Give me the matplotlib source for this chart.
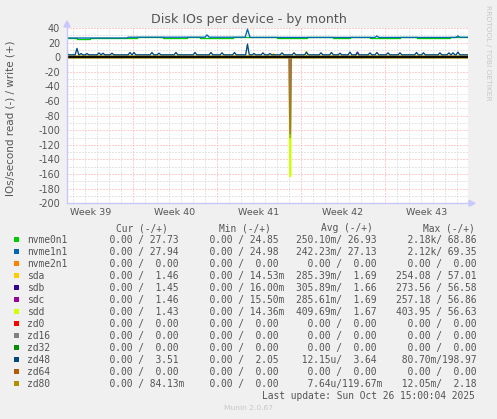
import matplotlib
matplotlib.use("Agg")
import matplotlib.pyplot as plt
from matplotlib.patches import Rectangle, Polygon
from matplotlib.lines import Line2D

W, H = 497, 419
XMAX = 33.42  # days shown (12 px per day)

devices = ["nvme0n1", "nvme1n1", "nvme2n1", "sda", "sdb", "sdc", "sdd",
           "zd0", "zd16", "zd32", "zd48", "zd64", "zd80"]
colors = ["#00cc00", "#0066b3", "#ff8000", "#ffcc00", "#330099", "#990099", "#ccff00",
          "#ff0000", "#808080", "#008f00", "#00487d", "#b35a00", "#b38f00"]

cur = ["  0.00 / 27.73 ", "  0.00 / 27.94 ", "  0.00 /  0.00 ", "  0.00 /  1.46 ",
       "  0.00 /  1.45 ", "  0.00 /  1.46 ", "  0.00 /  1.43 ", "  0.00 /  0.00 ",
       "  0.00 /  0.00 ", "  0.00 /  0.00 ", "  0.00 /  3.51 ", "  0.00 /  0.00 ",
       "  0.00 / 84.13m"]
mins = ["  0.00 / 24.85 ", "  0.00 / 24.98 ", "  0.00 /  0.00 ", "  0.00 / 14.53m",
        "  0.00 / 16.00m", "  0.00 / 15.50m", "  0.00 / 14.36m", "  0.00 /  0.00 ",
        "  0.00 /  0.00 ", "  0.00 /  0.00 ", "  0.00 /  2.05 ", "  0.00 /  0.00 ",
        "  0.00 /  0.00 "]
avgs = ["250.10m/ 26.93 ", "242.23m/ 27.13 ", "  0.00 /  0.00 ", "285.39m/  1.69 ",
        "305.89m/  1.66 ", "285.61m/  1.69 ", "409.69m/  1.67 ", "  0.00 /  0.00 ",
        "  0.00 /  0.00 ", "  0.00 /  0.00 ", " 12.15u/  3.64 ", "  0.00 /  0.00 ",
        "  7.64u/119.67m"]
maxs = ["  2.18k/ 68.86 ", "  2.12k/ 69.35 ", "  0.00 /  0.00 ", "254.08 / 57.01 ",
        "273.56 / 56.58 ", "257.18 / 56.86 ", "403.95 / 56.63 ", "  0.00 /  0.00 ",
        "  0.00 /  0.00 ", "  0.00 /  0.00 ", " 80.70m/198.97 ", "  0.00 /  0.00 ",
        " 12.05m/  2.18 "]

week_labels = ["Week 39", "Week 40", "Week 41", "Week 42", "Week 43"]
week_centers = [2.0, 9.0, 16.0, 23.0, 30.0]
week_starts = [5.5, 12.5, 19.5, 26.5]

# write (+) side
nvme1_t = [0, 5.0, 5.1, 11.5, 11.67, 11.85, 14.85, 15.04, 15.25, 25.65, 25.83, 26.0,
           32.4, 32.58, 32.75, XMAX]
nvme1_v = [26.3, 26.3, 27.4, 27.4, 30.5, 27.4, 27.4, 38.5, 27.1, 27.1, 29.0, 27.1,
           27.1, 29.0, 27.3, 27.3]
nvme0_t = [0, 0.8, 1.9, 5.1, 5.8, 8.0, 10.0, 11.1, 13.8, 17.5, 20.0, 22.2, 23.6,
           25.25, 27.75, 29.2, 31.9, XMAX]
nvme0_v = [26.3, 25.6, 26.3, 26.3, 27.4, 26.6, 27.4, 26.6, 27.4, 26.4, 27.1, 26.4,
           27.1, 26.4, 27.1, 26.4, 27.1, 27.1]

zd48_base = 3.3
zd48_days = [0.83, 1.17, 1.67, 2.67, 3.0, 3.75, 5.25, 5.58, 7.08, 7.67, 9.08, 10.67,
             12.0, 12.92, 13.96, 15.04, 15.58, 16.33, 16.92, 17.92, 18.92, 19.96,
             21.17, 22.04, 22.75, 23.58, 24.21, 25.25, 25.83, 26.75, 27.75, 29.13,
             29.71, 31.08, 31.83, 32.17, 32.58]
zd48_peaks = [12.0, 5.0, 5.0, 6.0, 5.5, 5.5, 6.5, 6.5, 6.5, 5.5, 6.5, 6.5,
              6.5, 6.0, 6.5, 18.0, 5.0, 6.0, 5.0, 6.0, 6.0, 7.0,
              6.0, 6.5, 5.5, 7.0, 6.5, 6.0, 6.5, 6.0, 6.0, 6.5,
              6.0, 6.0, 6.0, 6.0, 7.0]

sd_base = [1.5, 1.45, 1.5, 1.45]      # sda, sdb, sdc, sdd
sd_bump_day = [17.2, None, 24.2, 19.96]
sd_bump_val = [5.0, None, 7.0, 8.0]

zd80_base = 0.08

# read (-) side: one spike on the sd disks
read_day = 18.6
read_peak = [-102.0, -110.0, -104.0, -163.0]   # sda, sdb, sdc, sdd


def spiked(base, days, peaks, half=0.15):
    xs, ys = [0], [base]
    for d, p in zip(days, peaks):
        xs += [d - half, d, d + half]
        ys += [base, p, base]
    xs.append(XMAX)
    ys.append(base)
    return xs, ys


def fx(px):
    return px / W


def fy(py):
    return 1 - py / H


txt = "#555555"
fig = plt.figure(figsize=(W / 100, H / 100), dpi=100, facecolor="#f0f0f0")
ax = fig.add_axes([fx(67), fy(203.3), (468 - 67) / W, (203.3 - 28) / H])
ax.set_facecolor("white")
ax.set_xlim(0, XMAX)
ax.set_ylim(-200, 40)
for s in ax.spines.values():
    s.set_visible(False)

# grid
dot = (0, (1, 2))
for d in range(34):
    x = d + 0.5
    if x in week_starts or x > XMAX:
        continue
    ax.axvline(x, color="#cccccc", lw=0.72, ls=dot, zorder=0)
for yv in range(-190, 40, 20):
    ax.axhline(yv, color="#cccccc", lw=0.72, ls=dot, zorder=0)
for x in week_starts:
    ax.axvline(x, color="#ff9f9f", lw=0.72, ls=dot, zorder=0)
for yv in range(-200, 41, 20):
    ax.axhline(yv, color="#ff9f9f", lw=0.72, ls=dot, zorder=0)

lw = 0.95
ax.plot(nvme0_t, nvme0_v, color=colors[0], lw=lw, drawstyle="steps-post")
ax.plot(nvme1_t, nvme1_v, color=colors[1], lw=lw)
ax.plot([0, XMAX], [0, 0], color=colors[2], lw=lw)
for i in range(4):
    if sd_bump_day[i] is None:
        xs, ys = spiked(sd_base[i], [], [])
    else:
        xs, ys = spiked(sd_base[i], [sd_bump_day[i]], [sd_bump_val[i]])
    ax.plot(xs, ys, color=colors[3 + i], lw=lw)
for i in (7, 8, 9):
    ax.plot([0, XMAX], [0, 0], color=colors[i], lw=lw)
xs, ys = spiked(zd48_base, zd48_days, zd48_peaks)
xs = [0, 0.1] + xs[1:]
ys = [6.5, zd48_base] + ys[1:]
ax.plot(xs, ys, color=colors[10], lw=lw)
ax.plot([0, XMAX], [0, 0], color=colors[11], lw=lw)
ax.plot([0, XMAX], [zd80_base, zd80_base], color=colors[12], lw=lw)

# read side
xs, ys = spiked(0, [read_day], [read_peak[3]], half=0.08)
ax.plot(xs, ys, color=colors[6], lw=1.5)
for i in range(3):
    xs, ys = spiked(0, [read_day], [read_peak[i]], half=0.08)
    ax.plot(xs, ys, color=colors[3 + i], lw=1.3, alpha=0.3)

ax.axhline(0, color="black", lw=1.3)

ax.set_yticks(range(-200, 41, 20))
ax.set_yticklabels([str(v) for v in range(-200, 41, 20)])
ax.set_xticks(week_centers)
ax.set_xticklabels(week_labels)
ax.tick_params(axis="y", length=0, pad=5.0, labelsize=6.9, labelcolor=txt)
ax.tick_params(axis="x", length=0, pad=3.2, labelsize=6.8, labelcolor=txt)

# axes lines with arrows
axc = "#c8c8ff"
fig.add_artist(Line2D([fx(67), fx(67)], [fy(203.3), fy(24)], color=axc, lw=1.0))
fig.add_artist(Line2D([fx(67), fx(471)], [fy(203.3), fy(203.3)], color=axc, lw=1.0))
fig.add_artist(Polygon([(fx(64), fy(27)), (fx(70), fy(27)), (fx(67), fy(21))],
                       closed=True, color=axc, transform=fig.transFigure))
fig.add_artist(Polygon([(fx(469), fy(200.3)), (fx(469), fy(206.3)), (fx(475), fy(203.3))],
                       closed=True, color=axc, transform=fig.transFigure))

fig.text(fx(249), fy(19.3), "Disk IOs per device - by month", ha="center", va="center",
         fontsize=9.05, color=txt)
fig.text(fx(10.5), fy(118), "IOs/second read (-) / write (+)", rotation=90,
         ha="center", va="center", fontsize=7.5, color=txt)
fig.text(fx(488), fy(53), "RRDTOOL / TOBI OETIKER", rotation=270, ha="center",
         va="center", fontsize=5.4, color="#c8c8c8")

mono = "DejaVu Sans Mono"
fs = 6.95
def row_text(px, py, s, **kw):
    fig.text(fx(px), fy(py + 3.5), s, ha="left", va="baseline", fontsize=fs,
             family=mono, color=txt, **kw)

row_text(116, 227.5, "Cur (-/+)")
row_text(219, 227.5, "Min (-/+)")
row_text(321, 227.5, "Avg (-/+)")
row_text(422.7, 227.5, "Max (-/+)")
for i, name in enumerate(devices):
    py = 239.3 + 12.0 * i
    fig.add_artist(Rectangle((fx(14), fy(py + 2.5)), 5 / W, 5 / H, facecolor=colors[i],
                             edgecolor="none", transform=fig.transFigure))
    row_text(26.7, py, name)
    row_text(98.5, py, cur[i])
    row_text(197.8, py, mins[i])
    row_text(296, py, avgs[i])
    row_text(395.8, py, maxs[i])
row_text(261.7, 395.3, "Last update: Sun Oct 26 15:00:04 2025")
fig.text(fx(248), fy(407.7), "Munin 2.0.67", ha="center", va="center", fontsize=5.4,
         color="#c8c8c8")

fig.savefig("out.png", dpi=100, facecolor=fig.get_facecolor())
